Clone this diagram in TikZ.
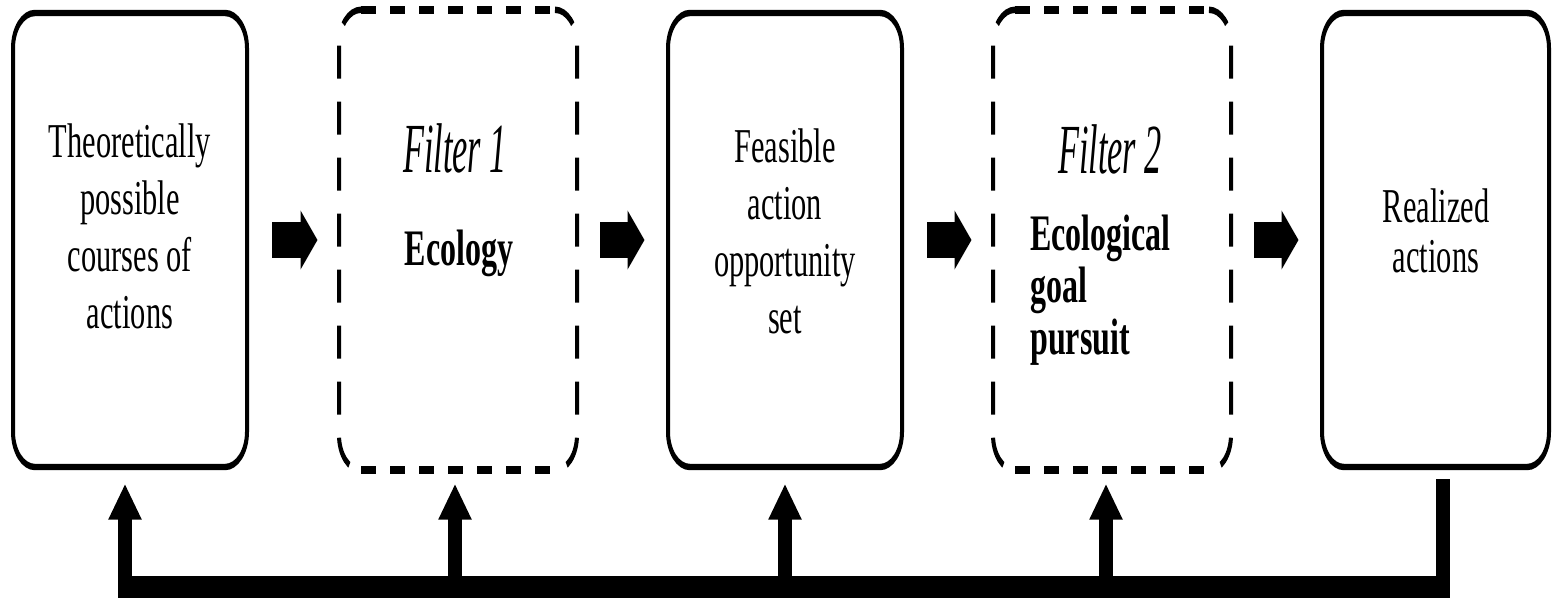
\documentclass[tikz,border=0pt]{standalone}
\usepackage{fontspec}
\setmainfont{Liberation Serif}
\newfontfamily\filterfont{Liberation Serif}[FakeStretch=0.78]
\usetikzlibrary{arrows.meta,calc}

\begin{document}
\begin{tikzpicture}
\useasboundingbox (0,0) rectangle (776.5pt,-300pt);
\fill[white] (0,0) rectangle (776.5pt,-300pt);
% everything is laid out on a 1553 x 600 grid, drawn tall and narrow
\begin{scope}[x=0.5pt, y=-0.3125pt, transform canvas={yscale=1.6},
  box/.style={minimum width=117pt, minimum height=141.9pt, rounded corners=11pt,
    line width=2pt, inner sep=0pt},
  solidbox/.style={box, draw},
  hdashed/.style={line width=2.6pt, dash pattern=on 7.5pt off 7pt},
  vdashed/.style={line width=2pt, rounded corners=11pt, dash pattern=on 10.3pt off 7.2pt},
  blockarrow/.style={line width=11.5pt, -{Triangle[length=8.5pt,width=18pt]},
    shorten <=11.5pt, shorten >=10.75pt, yshift=0.94pt},
  feedback/.style={line width=7pt},
  uparrow/.style={feedback, -{Triangle[length=11pt,width=16pt]}, shorten >=4.4pt},
  boxtext/.style={font=\fontsize{15.2}{17.8}\selectfont, align=center, inner sep=0pt},
  filtertext/.style={font=\filterfont\itshape\fontsize{22}{26}\selectfont, inner sep=0pt, anchor=base},
  boldtext/.style={font=\bfseries\fontsize{16}{16.25}\selectfont, inner sep=0pt}
]
  % the five stages
  \node[solidbox] (b1) at (130,240) {};
  \node[box] (b2) at (458,240) {};
  \node[solidbox] (b3) at (785,240) {};
  \node[box] (b4) at (1112,240) {};
  \node[solidbox, minimum width=113.5pt] (b5) at (1435.5,240) {};

  % dashed outlines of the two filters
  \foreach \b in {b2,b4} {
    \draw[hdashed] ([xshift=11pt]\b.north west) -- ([xshift=-11pt]\b.north east);
    \draw[hdashed] ([xshift=11pt]\b.south west) -- ([xshift=-11pt]\b.south east);
    \draw[vdashed] ([xshift=11pt]\b.north west) -| (\b.west) |- ([xshift=11pt]\b.south west);
    \draw[vdashed] ([xshift=-11pt]\b.north east) -| (\b.east) |- ([xshift=-11pt]\b.south east);
  }

  % texts
  \node[boxtext] (t1) at (130,226.5) {Theoretically\\possible\\courses of\\actions};
  \node[filtertext] (f1) at (455,172) {Filter 1};
  \node[boldtext, anchor=base] (e1) at (459,265) {Ecology};
  \node[boxtext] (t3) at (785,231.5) {Feasible\\action\\opportunity\\set};
  \node[filtertext] (f2) at (1110,173) {Filter 2};
  \node[boldtext, align=left, anchor=west] (e2) at (1030,290.5) {Ecological\\goal\\pursuit};
  \node[boxtext, font=\fontsize{15.2}{15.6}\selectfont] (t5) at (1436,230.5) {Realized\\actions};

  % forward arrows
  \draw[blockarrow] (b1.east) -- (b2.west);
  \draw[blockarrow] (b2.east) -- (b3.west);
  \draw[blockarrow] (b3.east) -- (b4.west);
  \draw[blockarrow] (b4.east) -- (b5.west);

  % feedback loop
  \coordinate (barL) at (125,587);
  \coordinate (barR) at (1443,587);
  \draw[uparrow, shorten <=2.8pt] (barR |- b5.south) -- (barR) -- (barL) -- (barL |- b1.south);
  \draw[uparrow] ([xshift=-1.5pt]b2.south |- barL) -- ([xshift=-1.5pt]b2.south);
  \draw[uparrow] (b3.south |- barL) -- (b3.south);
  \draw[uparrow] ([xshift=-3pt]b4.south |- barL) -- ([xshift=-3pt]b4.south);
\end{scope}
\end{tikzpicture}
\end{document}
